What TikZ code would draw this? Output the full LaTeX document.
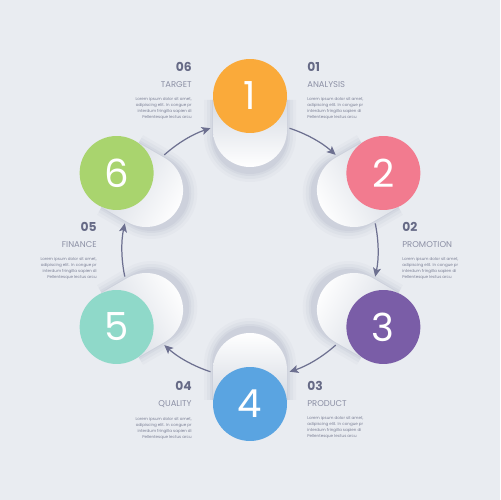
\documentclass[tikz,border=0pt]{standalone}
\usepackage{fontspec}
\setmainfont{Poppins}
\usetikzlibrary{arrows.meta}
\usetikzlibrary{calc, positioning}
\usepackage{xcolor}

\definecolor{bg}{HTML}{E9ECF1}
\definecolor{arrowc}{HTML}{6D7090}
\definecolor{numc}{HTML}{666A86}
\definecolor{capc}{HTML}{8C90A5}
\definecolor{loremc}{HTML}{7A7E94}
\definecolor{shadowc}{HTML}{8A93AB}
\definecolor{sidec}{HTML}{D3D8E1}
\definecolor{cone}{HTML}{FAAA3A}
\definecolor{ctwo}{HTML}{F27B8F}
\definecolor{cthree}{HTML}{7A5DA7}
\definecolor{cfour}{HTML}{5AA4E1}
\definecolor{cfive}{HTML}{8FD9C9}
\definecolor{csix}{HTML}{A9D46E}

\tikzset{
  face/.style={circle, minimum size=1.48cm, inner sep=0pt, text=white,
    font=\fontsize{22}{22}\selectfont},
  stepnum/.style={inner sep=0pt, text=numc, font=\bfseries\fontsize{7}{7}\selectfont},
  steptitle/.style={inner sep=0pt, text=capc, font=\fontsize{4.8}{4.8}\selectfont},
  lorem/.style={inner sep=0pt, text=loremc, font=\fontsize{2.3}{3.4}\selectfont},
  arr/.style={-{Stealth[length=5pt, width=4.6pt, inset=1.2pt]}, arrowc, line width=0.7pt},
}

% drum: angle, colour, number, name
\newcommand{\drum}[4]{
  \foreach \s/\op in {46/0.05, 43/0.07, 40/0.09, 38/0.1}
    \fill[shadowc, opacity=\op] ($(o)+(#1:150)+(#1+90:\s)$)
      -- ($(o)+(#1:114)+(#1+90:\s)$) arc[start angle=#1+90, end angle=#1+270, radius=\s]
      -- ($(o)+(#1:150)+(#1-90:\s)$) -- cycle;
  \shade[left color=sidec, right color=white, shading angle=#1-90]
    ($(o)+(#1:154)+(#1+90:37)$) -- ($(o)+(#1:120)+(#1+90:37)$)
    arc[start angle=#1+90, end angle=#1+270, radius=37]
    -- ($(o)+(#1:154)+(#1-90:37)$) -- cycle;
  \node[face, fill=#2] (#4) at ($(o)+(#1:154)$) {#3};
}

\begin{document}
\begin{tikzpicture}[x=0.02cm, y=0.02cm]
  \fill[bg] (0,0) rectangle (500,500);
  \useasboundingbox (0,0) rectangle (500,500);
  \coordinate (o) at (250,250);

  % drums
  \drum{90}{cone}{1}{n1}
  \drum{30}{ctwo}{2}{n2}
  \drum{-30}{cthree}{3}{n3}
  \drum{-90}{cfour}{4}{n4}
  \drum{-150}{cfive}{5}{n5}
  \drum{150}{csix}{6}{n6}

  % arrows round the ring
  \draw[arr] ($(o)+(72:128)$) arc[start angle=72, end angle=48, radius=128];
  \draw[arr] ($(o)+(12:128)$) arc[start angle=12, end angle=-12, radius=128];
  \draw[arr] ($(o)+(-48:128)$) arc[start angle=-48, end angle=-72, radius=128];
  \draw[arr] ($(o)+(-108:128)$) arc[start angle=-108, end angle=-132, radius=128];
  \draw[arr] ($(o)+(-168:128)$) arc[start angle=-168, end angle=-192, radius=128];
  \draw[arr] ($(o)+(132:128)$) arc[start angle=132, end angle=108, radius=128];

  % labels, right side
  \node[stepnum, anchor=west] (t1) at (307,433) {01};
  \node[steptitle, below=5.5pt of t1.south west, anchor=north west] (h1) {ANALYSIS};
  \node[lorem, align=left, below=5pt of h1.south west, anchor=north west] (l1)
    {Lorem ipsum dolor sit amet,\\adipiscing elit. In congue pr\\interdum fringilla sapien di\\Pellentesque lectus arcu};

  \node[stepnum, anchor=west] (t2) at (402,273) {02};
  \node[steptitle, below=5.5pt of t2.south west, anchor=north west] (h2) {PROMOTION};
  \node[lorem, align=left, below=5pt of h2.south west, anchor=north west] (l2)
    {Lorem ipsum dolor sit amet,\\adipiscing elit. In congue pr\\interdum fringilla sapien di\\Pellentesque lectus arcu};

  \node[stepnum, anchor=west] (t3) at (307,114) {03};
  \node[steptitle, below=5.5pt of t3.south west, anchor=north west] (h3) {PRODUCT};
  \node[lorem, align=left, below=5pt of h3.south west, anchor=north west] (l3)
    {Lorem ipsum dolor sit amet,\\adipiscing elit. In congue pr\\interdum fringilla sapien di\\Pellentesque lectus arcu};

  % labels, left side
  \node[stepnum, anchor=east] (t4) at (192,114) {04};
  \node[steptitle, below=5.5pt of t4.south east, anchor=north east] (h4) {QUALITY};
  \node[lorem, align=right, below=5pt of h4.south east, anchor=north east] (l4)
    {Lorem ipsum dolor sit amet,\\adipiscing elit. In congue pr\\interdum fringilla sapien di\\Pellentesque lectus arcu};

  \node[stepnum, anchor=east] (t5) at (97,273) {05};
  \node[steptitle, below=5.5pt of t5.south east, anchor=north east] (h5) {FINANCE};
  \node[lorem, align=right, below=5pt of h5.south east, anchor=north east] (l5)
    {Lorem ipsum dolor sit amet,\\adipiscing elit. In congue pr\\interdum fringilla sapien di\\Pellentesque lectus arcu};

  \node[stepnum, anchor=east] (t6) at (192,433) {06};
  \node[steptitle, below=5.5pt of t6.south east, anchor=north east] (h6) {TARGET};
  \node[lorem, align=right, below=5pt of h6.south east, anchor=north east] (l6)
    {Lorem ipsum dolor sit amet,\\adipiscing elit. In congue pr\\interdum fringilla sapien di\\Pellentesque lectus arcu};
\end{tikzpicture}
\end{document}
